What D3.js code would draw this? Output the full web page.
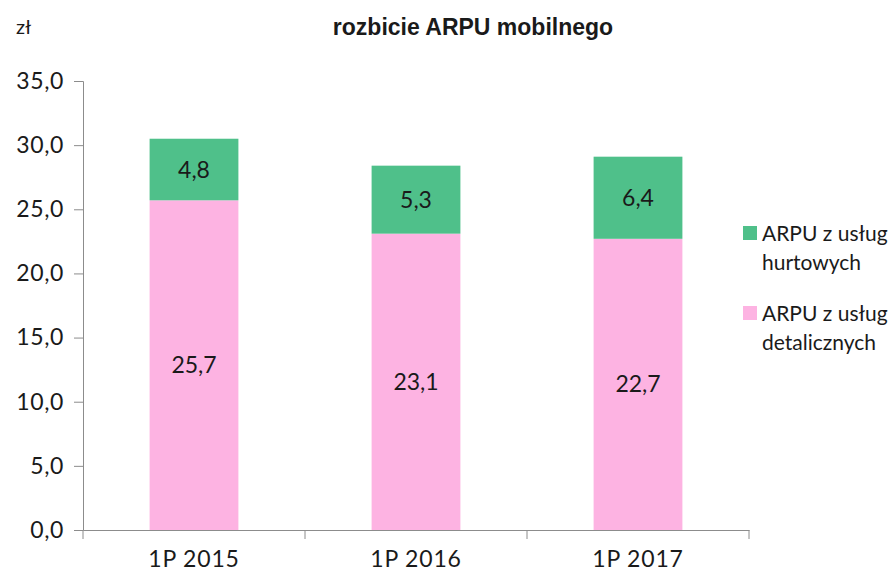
<!DOCTYPE html>
<html>
<head>
<meta charset="utf-8">
<script src="https://cdn.jsdelivr.net/npm/d3@7"></script>
<style>
  body { margin: 0; background: #fff; }
  text { font-family: Lato, "Open Sans", sans-serif; fill: #1a1a1a; }
</style>
</head>
<body>
<div id="chart"></div>
<script>
const categories = ["1P 2015", "1P 2016", "1P 2017"];
const retail = [25.7, 23.1, 22.7];
const wholesale = [4.8, 5.3, 6.4];
const yTicks = [0, 5, 10, 15, 20, 25, 30, 35];
const seriesNames = ["ARPU z usług hurtowych", "ARPU z usług detalicznych"];

const width = 891;
const height = 575;
const fmt = (v) => v.toFixed(1).replace(".", ",");

const svg = d3.select("#chart").append("svg")
  .attr("width", width)
  .attr("height", height);

const x = d3.scaleBand().domain(categories).range([83, 749]).padding(0);
const y = d3.scaleLinear().domain([0, 35]).range([530, 81]);
const barW = x.bandwidth() * 0.4;
const axisColor = "#8c8c8c";

// Oś Y
const yAxis = svg.append("g")
  .attr("transform", "translate(83,0)")
  .call(d3.axisLeft(y).tickValues(yTicks).tickFormat(fmt).tickSize(9).tickPadding(10));
yAxis.select(".domain").attr("stroke", axisColor);
yAxis.selectAll(".tick line").attr("stroke", axisColor);
yAxis.selectAll("text")
  .style("font-size", "23px")
  .style("letter-spacing", "0.6px")
  .attr("fill", "#1a1a1a");

// Oś X
const xAxis = svg.append("g")
  .attr("transform", "translate(0,530)")
  .call(d3.axisBottom(x).tickSize(0).tickPadding(21));
xAxis.select(".domain").attr("stroke", axisColor);
xAxis.selectAll("text")
  .style("font-size", "23px")
  .style("letter-spacing", "0.8px")
  .attr("fill", "#1a1a1a");
xAxis.selectAll(".sep")
  .data(d3.range(categories.length + 1))
  .enter()
  .append("line")
  .attr("class", "sep")
  .attr("x1", (i) => x.range()[0] + i * x.step())
  .attr("x2", (i) => x.range()[0] + i * x.step())
  .attr("y1", 0)
  .attr("y2", 9)
  .attr("stroke", axisColor);

// Słupki
const bars = svg.append("g");
categories.forEach((c, i) => {
  const cx = x(c) + x.bandwidth() / 2;
  bars.append("rect")
    .attr("x", cx - barW / 2)
    .attr("y", y(retail[i]))
    .attr("width", barW)
    .attr("height", y(0) - y(retail[i]))
    .attr("fill", "#fdb3e2");
  bars.append("rect")
    .attr("x", cx - barW / 2)
    .attr("y", y(retail[i] + wholesale[i]))
    .attr("width", barW)
    .attr("height", y(retail[i]) - y(retail[i] + wholesale[i]))
    .attr("fill", "#4fc08a");
  bars.append("text")
    .attr("x", cx)
    .attr("y", y(retail[i] / 2))
    .attr("dy", "0.35em")
    .attr("text-anchor", "middle")
    .style("font-size", "23px")
    .text(fmt(retail[i]));
  bars.append("text")
    .attr("x", cx)
    .attr("y", y(retail[i] + wholesale[i] / 2))
    .attr("dy", "0.35em")
    .attr("text-anchor", "middle")
    .style("font-size", "23px")
    .text(fmt(wholesale[i]));
});

// Tytuł
svg.append("text")
  .attr("x", 473)
  .attr("y", 35)
  .attr("text-anchor", "middle")
  .style("font-family", "'Liberation Sans', Arial, sans-serif")
  .style("font-weight", "bold")
  .style("font-size", "23px")
  .text("rozbicie ARPU mobilnego");

svg.append("text")
  .attr("x", 16)
  .attr("y", 34)
  .style("font-size", "20px")
  .text("zł");

// Legenda
const legendColors = ["#4fc08a", "#fdb3e2"];
const legend = svg.append("g").attr("transform", "translate(743,226)");
seriesNames.forEach((name, i) => {
  const g = legend.append("g").attr("transform", `translate(0,${i * 80})`);
  g.append("rect").attr("width", 14).attr("height", 14).attr("fill", legendColors[i]);
  const words = name.split(" ");
  const line1 = words.slice(0, 3).join(" ");
  const line2 = words.slice(3).join(" ");
  g.append("text").attr("x", 19).attr("y", 15).style("font-size", "21px").text(line1);
  g.append("text").attr("x", 19).attr("y", 44).style("font-size", "21px").text(line2);
});
</script>
</body>
</html>
